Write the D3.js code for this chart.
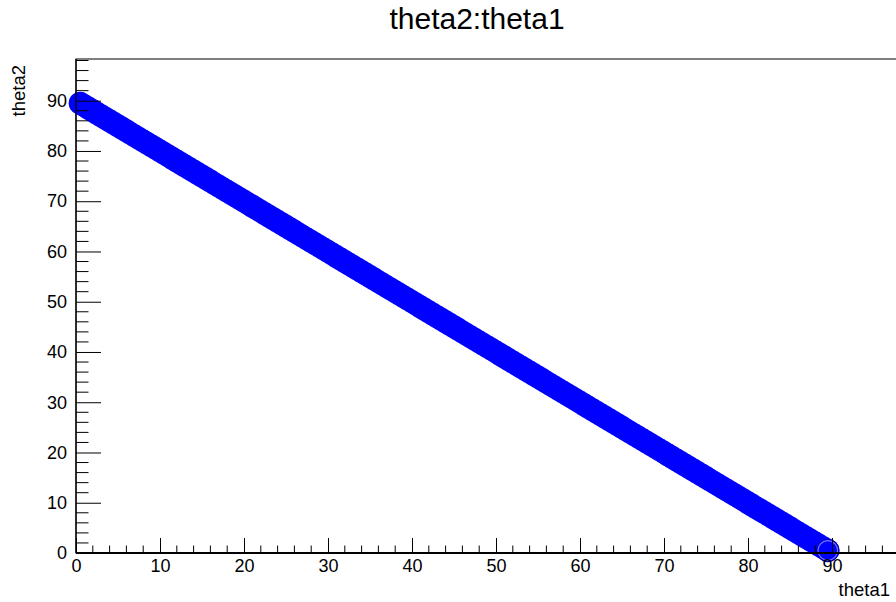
<!DOCTYPE html>
<html>
<head>
<meta charset="utf-8">
<script src="https://cdn.jsdelivr.net/npm/d3@7"></script>
<style>
  body { margin: 0; background: #fff; }
  text { font-family: "Liberation Sans", Arial, sans-serif; fill: #000; }
</style>
</head>
<body>
<script>
// tree entries (theta2 vs theta1)
var theta1 = [0.5,1,1.5,2,2.5,3,3.5,4,4.5,5,5.5,6,6.5,7,7.5,8,8.5,9,9.5,10,10.5,11,11.5,12,12.5,13,13.5,14,14.5,15,
  15.5,16,16.5,17,17.5,18,18.5,19,19.5,20,20.5,21,21.5,22,22.5,23,23.5,24,24.5,25,25.5,26,26.5,27,27.5,28,28.5,29,29.5,30,
  30.5,31,31.5,32,32.5,33,33.5,34,34.5,35,35.5,36,36.5,37,37.5,38,38.5,39,39.5,40,40.5,41,41.5,42,42.5,43,43.5,44,44.5,45,
  45.5,46,46.5,47,47.5,48,48.5,49,49.5,50,50.5,51,51.5,52,52.5,53,53.5,54,54.5,55,55.5,56,56.5,57,57.5,58,58.5,59,59.5,60,
  60.5,61,61.5,62,62.5,63,63.5,64,64.5,65,65.5,66,66.5,67,67.5,68,68.5,69,69.5,70,70.5,71,71.5,72,72.5,73,73.5,74,74.5,75,
  75.5,76,76.5,77,77.5,78,78.5,79,79.5,80,80.5,81,81.5,82,82.5,83,83.5,84,84.5,85,85.5,86,86.5,87,87.5,88,88.5,89,89.5];
var theta2 = [89.5,89,88.5,88,87.5,87,86.5,86,85.5,85,84.5,84,83.5,83,82.5,82,81.5,81,80.5,80,79.5,79,78.5,78,77.5,77,76.5,76,75.5,75,
  74.5,74,73.5,73,72.5,72,71.5,71,70.5,70,69.5,69,68.5,68,67.5,67,66.5,66,65.5,65,64.5,64,63.5,63,62.5,62,61.5,61,60.5,60,
  59.5,59,58.5,58,57.5,57,56.5,56,55.5,55,54.5,54,53.5,53,52.5,52,51.5,51,50.5,50,49.5,49,48.5,48,47.5,47,46.5,46,45.5,45,
  44.5,44,43.5,43,42.5,42,41.5,41,40.5,40,39.5,39,38.5,38,37.5,37,36.5,36,35.5,35,34.5,34,33.5,33,32.5,32,31.5,31,30.5,30,
  29.5,29,28.5,28,27.5,27,26.5,26,25.5,25,24.5,24,23.5,23,22.5,22,21.5,21,20.5,20,19.5,19,18.5,18,17.5,17,16.5,16,15.5,15,
  14.5,14,13.5,13,12.5,12,11.5,11,10.5,10,9.5,9,8.5,8,7.5,7,6.5,6,5.5,5,4.5,4,3.5,3,2.5,2,1.5,1,0.5];
var xTicks = [0,10,20,30,40,50,60,70,80,90];
var yTicks = [0,10,20,30,40,50,60,70,80,90];

var width = 896, height = 602;

var svg = d3.select("body").append("svg")
  .attr("width", width)
  .attr("height", height);

// frame goes past the right edge of the canvas
var x = d3.scaleLinear().domain([0, 100]).range([76, 916]);
var y = d3.scaleLinear().domain([0, 98.3]).range([553, 59]);

// title
svg.append("text")
  .attr("x", 477).attr("y", 29)
  .attr("text-anchor", "middle")
  .style("font-size", "30px")
  .text("theta2:theta1");

// frame
svg.append("rect")
  .attr("x", x(0)).attr("y", y(98.3))
  .attr("width", x(100) - x(0)).attr("height", y(0) - y(98.3))
  .attr("fill", "none").attr("stroke", "#000").attr("stroke-width", 1);

// points
var pts = theta1.map(function(t, i) { return [t, theta2[i]]; });
svg.append("g").selectAll("circle")
  .data(pts)
  .enter()
  .append("circle")
  .attr("cx", function(d) { return x(d[0]); })
  .attr("cy", function(d) { return y(d[1]); })
  .attr("r", 11.5)
  .attr("fill", "#0000ff");

// last marker has a visible rim
var last = pts[pts.length - 1];
svg.append("circle")
  .attr("cx", x(last[0])).attr("cy", y(last[1]))
  .attr("r", 9.8)
  .attr("fill", "none").attr("stroke", "#7777ff").attr("stroke-width", 1.2);
svg.append("circle")
  .attr("cx", x(last[0])).attr("cy", y(last[1]))
  .attr("r", 11.3)
  .attr("fill", "none").attr("stroke", "#0000aa").attr("stroke-width", 1);

// x axis, ticks pointing up
var xAxis = d3.axisBottom(x)
  .tickValues(xTicks)
  .tickSize(-15)
  .tickPadding(6)
  .tickFormat(d3.format("d"));
var gx = svg.append("g").attr("transform", "translate(0," + y(0) + ")").call(xAxis);
gx.select(".domain").remove();
gx.selectAll("line").attr("stroke-width", 1);
gx.selectAll("text").style("font-size", "18px");
gx.selectAll(".minor").data(d3.range(0, 100, 2).filter(function(v) { return v % 10 != 0; }))
  .enter().append("line")
  .attr("x1", function(d) { return x(d); }).attr("x2", function(d) { return x(d); })
  .attr("y1", 0).attr("y2", -7.5)
  .attr("stroke", "#000");
gx.append("line")
  .attr("x1", x(0)).attr("x2", width).attr("y1", 0).attr("y2", 0)
  .attr("stroke", "#000").attr("stroke-width", 2);

// y axis, ticks pointing right
var yAxis = d3.axisLeft(y)
  .tickValues(yTicks)
  .tickSize(-25)
  .tickPadding(9)
  .tickFormat(d3.format("d"));
var gy = svg.append("g").attr("transform", "translate(" + x(0) + ",0)").call(yAxis);
gy.select(".domain").remove();
gy.selectAll("text").style("font-size", "18px");
gy.selectAll(".minor").data(d3.range(0, 98.3, 2).filter(function(v) { return v % 10 != 0; }))
  .enter().append("line")
  .attr("y1", function(d) { return y(d); }).attr("y2", function(d) { return y(d); })
  .attr("x1", 0).attr("x2", 12.5)
  .attr("stroke", "#000");
gy.append("line")
  .attr("x1", 0).attr("x2", 0).attr("y1", y(0)).attr("y2", y(98.3))
  .attr("stroke", "#000").attr("stroke-width", 1.3);

// axis titles
svg.append("text")
  .attr("x", 890).attr("y", 596)
  .attr("text-anchor", "end")
  .style("font-size", "18.5px")
  .text("theta1");

svg.append("text")
  .attr("transform", "translate(25,65) rotate(-90)")
  .attr("text-anchor", "end")
  .style("font-size", "18.5px")
  .text("theta2");
</script>
</body>
</html>
